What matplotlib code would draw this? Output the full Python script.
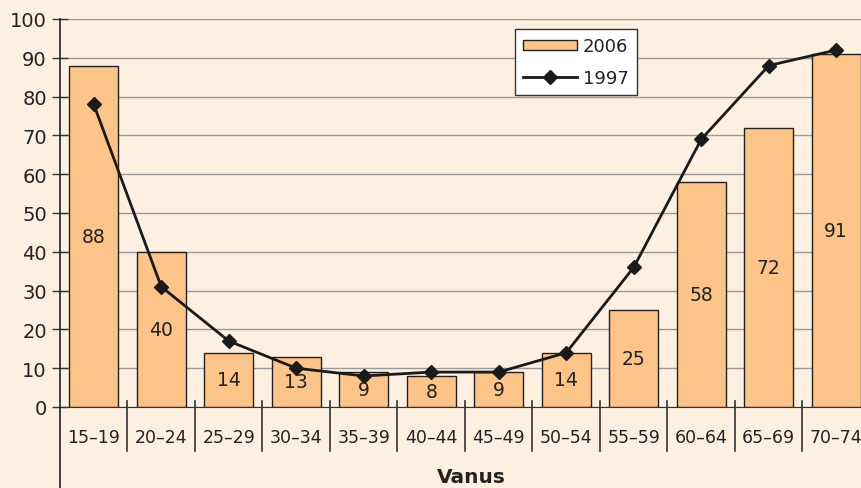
import matplotlib
matplotlib.use("Agg")
import matplotlib.pyplot as plt
import numpy as np
from matplotlib.lines import Line2D
import matplotlib.transforms as mtransforms

plt.rcParams['font.family'] = ['DejaVu Sans']

categories = ["15–19", "20–24", "25–29", "30–34", "35–39", "40–44",
              "45–49", "50–54", "55–59", "60–64", "65–69", "70–74"]
values_2006 = [88, 40, 14, 13, 9, 8, 9, 14, 25, 58, 72, 91]
values_1997 = [78, 31, 17, 10, 8, 9, 9, 14, 36, 69, 88, 92]
yticks = [0, 10, 20, 30, 40, 50, 60, 70, 80, 90, 100]

bg = "#FDF0E1"
bar_color = "#FDC48A"
text_color = "#222222"

W, H = 862, 489
fig = plt.figure(figsize=(W / 100, H / 100), dpi=100, facecolor=bg)
left_px, right_px, top_px, zero_px = 60, 870, 20, 408
ax_h = zero_px - top_px
ax = fig.add_axes([left_px / W, (H - zero_px) / H, (right_px - left_px) / W, ax_h / H])
ax.set_facecolor(bg)

x = np.arange(len(categories))
ax.bar(x, values_2006, width=0.72, color=bar_color, edgecolor="#222222",
       linewidth=1.0, label="2006", zorder=2)
ax.plot(x, values_1997, color="#1a1a1a", linewidth=2.0, marker="D", markersize=7.5,
        label="1997", zorder=3)

for xi, v in zip(x, values_2006):
    ax.text(xi, v / 2, str(v), ha="center", va="center", fontsize=13.5, color=text_color, zorder=4)

ax.set_xlim(-0.5, len(categories) - 0.5)
ax.set_ylim(0, 100)
ax.set_yticks(yticks)
ax.set_yticklabels([str(t) for t in yticks], fontsize=14, color=text_color)
ax.yaxis.grid(True, color="#9a9a9a", linewidth=1.0, zorder=0)
ax.set_axisbelow(True)

# category labels
ax.set_xticks(x)
ax.set_xticklabels(categories, fontsize=12.5, color=text_color)
ax.tick_params(axis="x", length=0, pad=15)
ax.tick_params(axis="y", length=11, width=1.0, direction="inout", color="#333333", pad=4)

# separator ticks between categories (6 px above, 44 px below the baseline)
trans = mtransforms.blended_transform_factory(ax.transData, ax.transAxes)
for b in np.arange(1, len(categories)) - 0.5:
    ax.add_line(Line2D([b, b], [6 / ax_h, -44 / ax_h], transform=trans,
                       color="#333333", linewidth=1.2, clip_on=False, zorder=5))

for s in ["top", "right"]:
    ax.spines[s].set_visible(False)
ax.spines["bottom"].set_color("#333333")
ax.spines["left"].set_visible(False)

# left axis line extending down to the bottom of the figure
fig.add_artist(Line2D([left_px / W, left_px / W], [0, (H - top_px) / H],
                      color="#222222", linewidth=1.2, transform=fig.transFigure))

fig.text(471 / W, 1 - 478 / H, "Vanus", ha="center", va="center", fontsize=14.5,
         fontweight="bold", color=text_color)

handles, labels = ax.get_legend_handles_labels()
order = [labels.index("2006"), labels.index("1997")]
leg = ax.legend([handles[i] for i in order], [labels[i] for i in order],
                loc="upper left", bbox_to_anchor=((515 - left_px) / (right_px - left_px),
                (zero_px - 30) / ax_h),
                fontsize=13, frameon=True, fancybox=False, edgecolor="#333333",
                facecolor="white", framealpha=1, borderpad=0.45, handlelength=3.0,
                handleheight=0.5, labelspacing=0.75, handletextpad=0.3, borderaxespad=0)
leg.get_frame().set_linewidth(1.0)
for t in leg.get_texts():
    t.set_color(text_color)

fig.savefig("out.png", dpi=100, facecolor=bg)
